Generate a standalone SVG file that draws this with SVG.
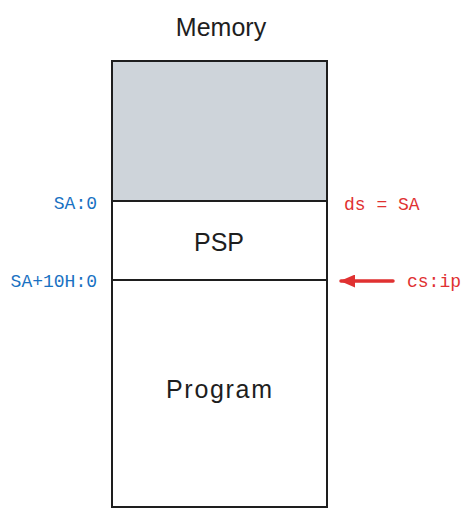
<svg xmlns="http://www.w3.org/2000/svg" width="470" height="517" viewBox="0 0 470 517">
<style>
.t{font-family:"Liberation Sans",Arial,sans-serif;font-size:25px;fill:#1e1e1e;text-anchor:middle}
.b{font-family:"Liberation Mono","Courier New",monospace;font-size:18px;fill:#1971c2;text-anchor:end}
.r{font-family:"Liberation Mono","Courier New",monospace;font-size:18px;fill:#e03131}
.box{stroke:#1e1e1e;stroke-width:2;fill:none}
</style>
<defs>
<marker id="ah" viewBox="0 0 15 13" refX="14" refY="6.5" markerWidth="15" markerHeight="13" markerUnits="userSpaceOnUse" orient="auto-start-reverse">
<path d="M0,0 L15,6.5 L0,13 z" fill="#e03131"/>
</marker>
</defs>
<rect width="470" height="517" fill="#ffffff"/>
<text class="t" x="221" y="36">Memory</text>
<g id="memory">
<rect x="112" y="61" width="215" height="140" fill="#ced4da"/>
<rect class="box" x="112" y="61" width="215" height="446"/>
</g>
<g id="reserved"><line class="box" x1="112" y1="201" x2="327" y2="201"/></g>
<g id="psp">
<line class="box" x1="112" y1="280" x2="327" y2="280"/>
<text class="t" x="219" y="251">PSP</text>
</g>
<g id="program">
<text class="t" x="219" y="398" textLength="106" lengthAdjust="spacing">Program</text>
</g>
<g id="labels">
<text class="b" x="97" y="209">SA:0</text>
<text class="b" x="97" y="287">SA+10H:0</text>
<text class="r" x="344" y="210">ds = SA</text>
<text class="r" x="407" y="287">cs:ip</text>
</g>
<g id="connectors">
<line x1="393" y1="281" x2="341" y2="281" stroke="#e03131" stroke-width="3.5" stroke-linecap="round" marker-end="url(#ah)"/>
</g>
</svg>
